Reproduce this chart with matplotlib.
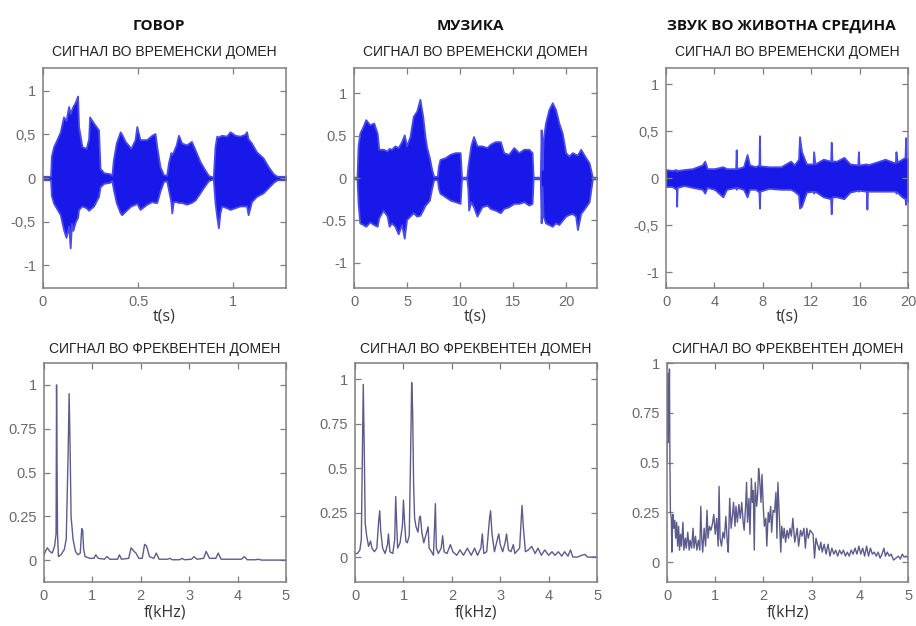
import matplotlib
matplotlib.use("Agg")
import matplotlib.pyplot as plt

# ---------------- time-domain envelopes ----------------
speech_t = [0.000, 0.040, 0.044, 0.056, 0.075, 0.091, 0.108, 0.121, 0.135, 0.143,
            0.150, 0.157, 0.170, 0.182, 0.187, 0.205, 0.227, 0.240, 0.245, 0.266,
            0.292, 0.300, 0.320, 0.350, 0.362, 0.370, 0.385, 0.406, 0.414, 0.432,
            0.462, 0.484, 0.493, 0.510, 0.545, 0.572, 0.589, 0.598, 0.615, 0.633,
            0.650, 0.659, 0.672, 0.677, 0.685, 0.700, 0.712, 0.729, 0.755, 0.780,
            0.800, 0.825, 0.846, 0.869, 0.895, 0.904, 0.913, 0.922, 0.930, 0.939,
            0.965, 0.983, 1.009, 1.035, 1.060, 1.070, 1.078, 1.096, 1.122, 1.157,
            1.184, 1.210, 1.230, 1.277]
speech_top = [0.02, 0.02, 0.25, 0.36, 0.45, 0.53, 0.70, 0.66, 0.82, 0.74,
              0.78, 0.82, 0.87, 0.94, 0.59, 0.36, 0.34, 0.45, 0.70, 0.63,
              0.55, 0.11, 0.06, 0.05, 0.03, 0.21, 0.40, 0.53, 0.50, 0.42,
              0.34, 0.44, 0.59, 0.44, 0.44, 0.49, 0.51, 0.36, 0.13, 0.04,
              0.03, 0.17, 0.29, 0.27, 0.30, 0.38, 0.49, 0.40, 0.38, 0.42,
              0.32, 0.19, 0.11, 0.03, 0.01, 0.36, 0.48, 0.47, 0.48, 0.49,
              0.48, 0.53, 0.49, 0.48, 0.50, 0.53, 0.45, 0.40, 0.30, 0.23,
              0.13, 0.05, 0.02, 0.02]
speech_bot = [-0.02, -0.02, -0.20, -0.29, -0.36, -0.42, -0.59, -0.68, -0.55, -0.80,
              -0.52, -0.60, -0.50, -0.45, -0.36, -0.32, -0.34, -0.37, -0.36, -0.32,
              -0.21, -0.10, -0.06, -0.05, -0.03, -0.13, -0.28, -0.40, -0.42, -0.38,
              -0.32, -0.30, -0.29, -0.36, -0.30, -0.27, -0.28, -0.28, -0.15, -0.04,
              -0.03, -0.13, -0.27, -0.40, -0.27, -0.27, -0.28, -0.28, -0.30, -0.28,
              -0.25, -0.17, -0.10, -0.03, -0.01, -0.28, -0.44, -0.57, -0.40, -0.32,
              -0.34, -0.36, -0.34, -0.32, -0.32, -0.32, -0.42, -0.27, -0.21, -0.17,
              -0.11, -0.05, -0.02, -0.02]

music_t = [0.00, 0.28, 0.38, 0.54, 0.85, 1.10, 1.48, 1.86, 2.18, 2.33,
           2.74, 3.12, 3.30, 3.53, 3.85, 4.16, 4.48, 4.73, 4.95, 5.27,
           5.58, 5.90, 6.21, 6.47, 6.69, 6.85, 7.10, 7.32, 7.50, 7.85,
           7.95, 8.10, 8.58, 9.05, 9.53, 10.00, 10.13, 10.63, 10.73, 10.80,
           11.00, 11.26, 11.58, 12.05, 12.52, 12.84, 13.31, 13.79, 14.10, 14.57,
           15.05, 15.52, 16.00, 16.47, 16.78, 16.88, 17.55, 17.63, 17.72, 17.82,
           18.04, 18.36, 18.68, 18.99, 19.30, 19.62, 19.94, 20.25, 20.57, 20.88,
           21.05, 21.36, 21.83, 22.15, 22.46, 22.90]
music_top = [0.01, 0.01, 0.38, 0.53, 0.61, 0.69, 0.63, 0.65, 0.53, 0.34,
             0.34, 0.32, 0.35, 0.34, 0.38, 0.36, 0.43, 0.51, 0.38, 0.49,
             0.73, 0.79, 0.93, 0.73, 0.49, 0.36, 0.24, 0.10, 0.02, 0.02,
             0.14, 0.22, 0.24, 0.28, 0.30, 0.30, 0.01, 0.01, 0.14, 0.20,
             0.38, 0.49, 0.38, 0.38, 0.36, 0.40, 0.43, 0.43, 0.30, 0.28,
             0.36, 0.30, 0.34, 0.34, 0.30, 0.01, 0.01, 0.57, 0.10, 0.45,
             0.65, 0.81, 0.89, 0.81, 0.65, 0.53, 0.30, 0.26, 0.30, 0.28,
             0.27, 0.34, 0.24, 0.18, 0.01, 0.01]
music_bot = [-0.01, -0.01, -0.30, -0.53, -0.55, -0.57, -0.52, -0.55, -0.57, -0.47,
             -0.38, -0.45, -0.57, -0.53, -0.57, -0.66, -0.55, -0.71, -0.49, -0.45,
             -0.41, -0.45, -0.44, -0.38, -0.32, -0.30, -0.26, -0.12, -0.02, -0.02,
             -0.12, -0.18, -0.22, -0.26, -0.28, -0.30, -0.01, -0.01, -0.14, -0.38,
             -0.28, -0.34, -0.45, -0.34, -0.32, -0.36, -0.38, -0.41, -0.36, -0.34,
             -0.30, -0.30, -0.28, -0.32, -0.30, -0.01, -0.01, -0.53, -0.10, -0.45,
             -0.53, -0.55, -0.57, -0.53, -0.55, -0.50, -0.45, -0.43, -0.42, -0.45,
             -0.61, -0.42, -0.34, -0.28, -0.01, -0.01]

env_t = [0.0, 0.5, 0.85, 0.88, 0.92, 1.5, 2.2, 3.0, 3.2, 3.4,
         4.0, 4.7, 5.0, 5.75, 5.8, 5.85, 6.4, 6.7, 6.9, 7.4,
         7.68, 7.72, 7.76, 8.5, 9.5, 10.3, 10.6, 10.95, 11.03, 11.2,
         11.6, 12.15, 12.2, 12.3, 13.0, 13.6, 13.65, 13.72, 14.1, 14.7,
         15.2, 15.85, 15.9, 15.95, 16.55, 16.6, 16.65, 17.4, 18.1, 18.95,
         19.0, 19.1, 19.5, 19.75, 19.8, 19.85, 20.0]
env_top = [0.09, 0.08, 0.09, 0.07, 0.08, 0.09, 0.10, 0.14, 0.18, 0.10,
           0.10, 0.12, 0.10, 0.10, 0.30, 0.10, 0.12, 0.25, 0.14, 0.12,
           0.14, 0.45, 0.13, 0.12, 0.12, 0.18, 0.14, 0.20, 0.44, 0.28,
           0.15, 0.15, 0.28, 0.15, 0.20, 0.18, 0.38, 0.18, 0.18, 0.22,
           0.15, 0.14, 0.28, 0.14, 0.15, 0.15, 0.14, 0.17, 0.20, 0.16,
           0.28, 0.17, 0.20, 0.22, 0.43, 0.22, 0.20]
env_bot = [-0.09, -0.09, -0.12, -0.30, -0.10, -0.08, -0.10, -0.12, -0.16, -0.10,
           -0.12, -0.20, -0.12, -0.10, -0.12, -0.10, -0.12, -0.20, -0.12, -0.12,
           -0.15, -0.32, -0.14, -0.11, -0.12, -0.12, -0.14, -0.18, -0.32, -0.30,
           -0.15, -0.14, -0.16, -0.14, -0.20, -0.22, -0.38, -0.20, -0.20, -0.22,
           -0.15, -0.13, -0.14, -0.13, -0.14, -0.33, -0.14, -0.14, -0.14, -0.14,
           -0.16, -0.15, -0.20, -0.22, -0.28, -0.22, -0.25]

# ---------------- frequency-domain magnitudes ----------------
speech_f = [0.00, 0.03, 0.07, 0.12, 0.17, 0.22, 0.25, 0.26, 0.27, 0.28,
            0.30, 0.35, 0.42, 0.46, 0.50, 0.52, 0.54, 0.56, 0.60, 0.65,
            0.70, 0.75, 0.78, 0.80, 0.82, 0.85, 0.95, 1.03, 1.07, 1.12,
            1.25, 1.30, 1.36, 1.52, 1.56, 1.60, 1.75, 1.80, 1.86, 1.90,
            1.96, 2.03, 2.08, 2.12, 2.18, 2.27, 2.32, 2.38, 2.55, 2.60,
            2.65, 2.80, 2.85, 2.90, 3.05, 3.10, 3.16, 3.30, 3.35, 3.42,
            3.55, 3.60, 3.66, 4.08, 4.14, 4.20, 4.38, 4.42, 4.50, 5.00]
speech_mag = [0.03, 0.05, 0.07, 0.05, 0.04, 0.08, 0.15, 1.00, 0.55, 0.15,
              0.02, 0.03, 0.06, 0.12, 0.62, 0.95, 0.64, 0.25, 0.12, 0.05,
              0.03, 0.04, 0.18, 0.17, 0.06, 0.02, 0.01, 0.01, 0.03, 0.01,
              0.005, 0.02, 0.005, 0.005, 0.03, 0.005, 0.01, 0.07, 0.05, 0.04,
              0.01, 0.01, 0.09, 0.08, 0.02, 0.01, 0.04, 0.005, 0.005, 0.01,
              0.002, 0.002, 0.01, 0.002, 0.005, 0.02, 0.005, 0.01, 0.05, 0.01,
              0.01, 0.04, 0.005, 0.005, 0.02, 0.002, 0.002, 0.005, 0.0, 0.0]

music_f = [0.00, 0.05, 0.10, 0.13, 0.15, 0.17, 0.19, 0.21, 0.24, 0.28,
           0.32, 0.35, 0.40, 0.45, 0.49, 0.51, 0.53, 0.57, 0.62, 0.67,
           0.69, 0.72, 0.78, 0.82, 0.84, 0.86, 0.88, 0.93, 0.98, 1.00,
           1.02, 1.05, 1.08, 1.12, 1.15, 1.17, 1.19, 1.21, 1.23, 1.26,
           1.30, 1.33, 1.35, 1.38, 1.42, 1.48, 1.51, 1.53, 1.58, 1.62,
           1.64, 1.66, 1.68, 1.72, 1.78, 1.81, 1.84, 1.90, 1.97, 2.02,
           2.10, 2.17, 2.24, 2.32, 2.40, 2.47, 2.53, 2.60, 2.63, 2.66,
           2.72, 2.78, 2.80, 2.83, 2.88, 2.94, 2.97, 3.00, 3.05, 3.10,
           3.13, 3.17, 3.22, 3.27, 3.30, 3.40, 3.45, 3.48, 3.52, 3.58,
           3.65, 3.72, 3.78, 3.85, 3.92, 4.00, 4.07, 4.13, 4.20, 4.27,
           4.33, 4.40, 4.45, 4.50, 4.60, 4.68, 4.75, 4.80, 5.00]
music_mag = [0.02, 0.02, 0.04, 0.10, 0.55, 0.97, 0.61, 0.19, 0.12, 0.06,
             0.09, 0.05, 0.03, 0.05, 0.21, 0.26, 0.15, 0.05, 0.02, 0.07,
             0.13, 0.03, 0.02, 0.10, 0.34, 0.19, 0.05, 0.08, 0.18, 0.32,
             0.21, 0.09, 0.08, 0.12, 0.61, 0.98, 0.82, 0.41, 0.22, 0.17,
             0.14, 0.22, 0.23, 0.14, 0.08, 0.14, 0.17, 0.05, 0.03, 0.01,
             0.15, 0.30, 0.05, 0.02, 0.05, 0.12, 0.03, 0.02, 0.07, 0.03,
             0.01, 0.04, 0.01, 0.05, 0.01, 0.05, 0.01, 0.05, 0.13, 0.02,
             0.03, 0.22, 0.26, 0.13, 0.03, 0.10, 0.13, 0.07, 0.03, 0.08,
             0.13, 0.04, 0.03, 0.07, 0.02, 0.05, 0.29, 0.16, 0.03, 0.04,
             0.06, 0.02, 0.05, 0.01, 0.04, 0.01, 0.03, 0.01, 0.03, 0.005,
             0.03, 0.005, 0.04, 0.0, 0.0, 0.01, 0.015, 0.0, 0.0]

env_f = [0.00, 0.01, 0.02, 0.03, 0.04, 0.05, 0.06, 0.07, 0.09, 0.10,
         0.12, 0.14, 0.16, 0.18, 0.20, 0.22, 0.24, 0.26, 0.28, 0.30,
         0.33, 0.35, 0.38, 0.40, 0.43, 0.46, 0.48, 0.51, 0.54, 0.56,
         0.59, 0.62, 0.65, 0.68, 0.70, 0.72, 0.74, 0.77, 0.80, 0.83,
         0.85, 0.88, 0.91, 0.94, 0.97, 1.00, 1.03, 1.06, 1.08, 1.10,
         1.13, 1.16, 1.19, 1.22, 1.25, 1.27, 1.30, 1.33, 1.36, 1.38,
         1.41, 1.43, 1.46, 1.49, 1.52, 1.55, 1.58, 1.60, 1.63, 1.65,
         1.67, 1.70, 1.72, 1.75, 1.77, 1.79, 1.81, 1.83, 1.86, 1.88,
         1.90, 1.92, 1.95, 1.97, 2.00, 2.02, 2.05, 2.07, 2.10, 2.12,
         2.15, 2.17, 2.20, 2.23, 2.26, 2.28, 2.30, 2.33, 2.36, 2.38,
         2.41, 2.43, 2.46, 2.49, 2.52, 2.55, 2.58, 2.61, 2.65, 2.70,
         2.73, 2.77, 2.80, 2.84, 2.87, 2.90, 2.93, 2.97, 3.00, 3.03,
         3.06, 3.09, 3.12, 3.16, 3.19, 3.22, 3.26, 3.30, 3.34, 3.38,
         3.42, 3.46, 3.50, 3.54, 3.58, 3.62, 3.66, 3.70, 3.74, 3.78,
         3.82, 3.86, 3.90, 3.94, 3.98, 4.02, 4.06, 4.10, 4.14, 4.18,
         4.22, 4.26, 4.30, 4.34, 4.38, 4.42, 4.46, 4.50, 4.53, 4.57,
         4.61, 4.65, 4.70, 4.75, 4.80, 4.84, 4.88, 4.92, 4.96, 5.00]
env_mag = [0.50, 0.95, 0.60, 0.80, 0.65, 0.97, 0.50, 0.25, 0.22, 0.05,
           0.24, 0.17, 0.21, 0.12, 0.20, 0.08, 0.18, 0.06, 0.14, 0.08,
           0.20, 0.06, 0.12, 0.07, 0.15, 0.06, 0.11, 0.07, 0.17, 0.07,
           0.13, 0.06, 0.11, 0.06, 0.28, 0.12, 0.05, 0.17, 0.08, 0.26,
           0.12, 0.18, 0.16, 0.19, 0.24, 0.14, 0.22, 0.08, 0.38, 0.12,
           0.08, 0.15, 0.12, 0.23, 0.10, 0.05, 0.32, 0.17, 0.24, 0.30,
           0.18, 0.28, 0.20, 0.29, 0.22, 0.30, 0.20, 0.16, 0.28, 0.40,
           0.20, 0.32, 0.14, 0.42, 0.30, 0.36, 0.06, 0.40, 0.28, 0.34,
           0.47, 0.42, 0.30, 0.44, 0.26, 0.18, 0.22, 0.08, 0.25, 0.20,
           0.28, 0.15, 0.26, 0.25, 0.35, 0.12, 0.40, 0.22, 0.05, 0.18,
           0.12, 0.17, 0.10, 0.16, 0.12, 0.17, 0.13, 0.22, 0.10, 0.17,
           0.08, 0.16, 0.13, 0.17, 0.07, 0.17, 0.12, 0.16, 0.15, 0.14,
           0.02, 0.12, 0.09, 0.06, 0.10, 0.05, 0.09, 0.04, 0.09, 0.03,
           0.07, 0.04, 0.06, 0.03, 0.06, 0.04, 0.06, 0.03, 0.05, 0.03,
           0.06, 0.04, 0.07, 0.04, 0.08, 0.04, 0.07, 0.03, 0.08, 0.03,
           0.07, 0.04, 0.05, 0.03, 0.05, 0.02, 0.04, 0.07, 0.03, 0.05,
           0.03, 0.04, 0.01, 0.02, 0.03, 0.015, 0.04, 0.025, 0.03, 0.02]

headers = ["ГОВОР", "МУЗИКА", "ЗВУК ВО ЖИВОТНА СРЕДИНА"]
time_title = "СИГНАЛ ВО ВРЕМЕНСКИ ДОМЕН"
freq_title = "СИГНАЛ ВО ФРЕКВЕНТЕН ДОМЕН"

time_xticks = [[0, 0.5, 1], [0, 5, 10, 15, 20], [0, 4, 8, 12, 16, 20]]
time_xticklabels = [["0", "0.5", "1"], ["0", "5", "10", "15", "20"],
                    ["0", "4", "8", "12", "16", "20"]]
time_yticks = [-1, -0.5, 0, 0.5, 1]
time_yticklabels = [["-1", "-0,5", "0", "0,5", "1"],
                    ["-1", "-0.5", "0", "0.5", "1"],
                    ["-1", "-0,5", "0", "0,5", "1"]]
freq_xticks = [0, 1, 2, 3, 4, 5]
freq_yticks = [0, 0.25, 0.5, 0.75, 1]
freq_yticklabels = ["0", "0.25", "0.5", "0.75", "1"]

# ---------------- figure ----------------
fig = plt.figure(figsize=(9.16, 6.26), dpi=100)
fig.patch.set_facecolor("white")

top_boxes = [[0.0469, 0.5399, 0.2653, 0.3514],
             [0.3865, 0.5399, 0.2653, 0.3514],
             [0.7271, 0.5399, 0.2642, 0.3514]]
bot_boxes = [[0.0480, 0.0703, 0.2642, 0.3498],
             [0.3876, 0.0703, 0.2642, 0.3498],
             [0.7282, 0.0703, 0.2631, 0.3498]]
time_xlim = [(0, 1.277), (0, 22.9), (0, 20)]
time_ylim = [(-1.26, 1.26), (-1.3, 1.3), (-1.17, 1.17)]
freq_ylim = [(-0.125, 1.125), (-0.14, 1.09), (-0.1, 1.0)]

WAVE = "#1818e8"
WAVE_EDGE = "#4a4ae6"
SPEC = "#5c5c8c"
SPINE = "#7f7f7f"
TICKLAB = "#6a6a6a"
NARROW = ["Liberation Sans Narrow", "Liberation Sans", "DejaVu Sans"]
LABFONT = ["Open Sans", "DejaVu Sans"]


def style(ax):
    for s in ax.spines.values():
        s.set_color(SPINE)
        s.set_linewidth(1.1)
    ax.tick_params(direction="in", top=True, right=True, length=4,
                   width=0.9, color=SPINE, labelcolor=TICKLAB,
                   labelsize=10.5, pad=5)
    for lab in ax.get_xticklabels() + ax.get_yticklabels():
        lab.set_fontfamily(["Liberation Sans", "DejaVu Sans"])


waves = [(speech_t, speech_top, speech_bot),
         (music_t, music_top, music_bot),
         (env_t, env_top, env_bot)]
spectra = [(speech_f, speech_mag), (music_f, music_mag), (env_f, env_mag)]

for i in range(3):
    ax = fig.add_axes(top_boxes[i])
    t, up, lo = waves[i]
    ax.fill_between(t, lo, up, color=WAVE, linewidth=1.3, edgecolor=WAVE_EDGE)
    ax.set_xlim(*time_xlim[i])
    ax.set_ylim(*time_ylim[i])
    ax.set_xticks(time_xticks[i])
    ax.set_xticklabels(time_xticklabels[i])
    ax.set_yticks(time_yticks)
    ax.set_yticklabels(time_yticklabels[i])
    style(ax)
    ax.set_xlabel("t(s)", fontsize=11.5, color="#333333", family=LABFONT,
                  labelpad=0)
    ax.set_title(time_title, fontsize=10, color="#222222", family=NARROW, pad=9)

    bx = fig.add_axes(bot_boxes[i])
    f, m = spectra[i]
    bx.plot(f, m, color=SPEC, linewidth=1.0)
    bx.set_xlim(0, 5)
    bx.set_ylim(*freq_ylim[i])
    bx.set_xticks(freq_xticks)
    bx.set_yticks(freq_yticks)
    bx.set_yticklabels(freq_yticklabels)
    style(bx)
    bx.set_xlabel("f(kHz)", fontsize=11.5, color="#333333", family=LABFONT,
                  labelpad=1)
    bx.set_title(freq_title, fontsize=10, color="#222222", family=NARROW, pad=7)

    cx = (top_boxes[i][0] + top_boxes[i][2] / 2)
    fig.text(cx - 0.006, 1 - 26 / 626, headers[i], ha="center", va="center",
             fontsize=11, fontweight="bold", color="#111111",
             family=["Open Sans", "DejaVu Sans"])

fig.savefig("out.png", dpi=100, facecolor="white")
